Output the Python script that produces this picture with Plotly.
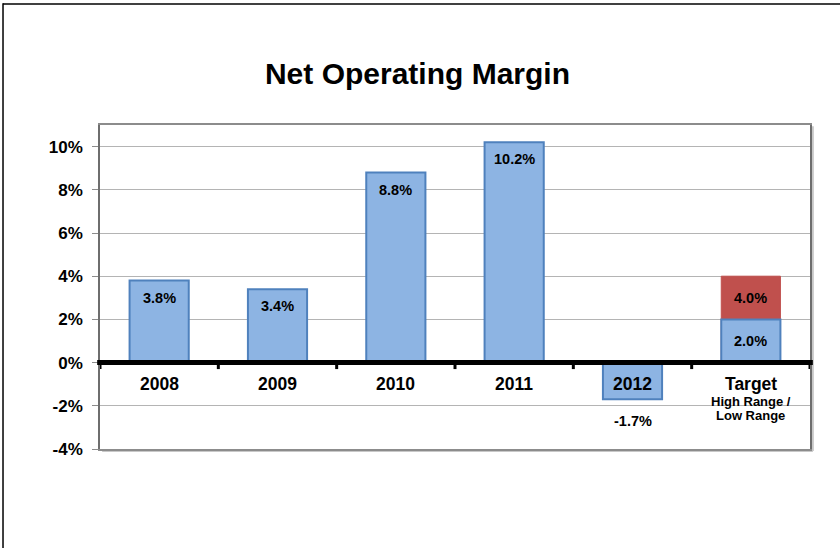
import plotly.graph_objects as go

# Net operating margin by year, in percent
categories = ["2008", "2009", "2010", "2011", "2012", "Target"]
margin = [3.8, 3.4, 8.8, 10.2, -1.7, 2.0]
target_high = [None, None, None, None, None, 4.0]
y_ticks = [-4, -2, 0, 2, 4, 6, 8, 10]
target_note = ["High Range /", "Low Range"]

BLUE_FILL = "#8DB4E3"
BLUE_EDGE = "#4F81BD"
RED_FILL = "#C0504D"
FONT = "Liberation Sans, Arial, sans-serif"

xpos = list(range(len(categories)))
n_years = len(categories) - 1

fig = go.Figure()

# High range of the target (drawn behind the low range)
fig.add_trace(go.Bar(
    x=xpos, y=target_high, width=0.5,
    marker=dict(color=RED_FILL, line=dict(color=RED_FILL, width=1)),
    hoverinfo="skip", showlegend=False,
))

# Yearly margins and low range of the target
fig.add_trace(go.Bar(
    x=xpos, y=margin, width=0.5,
    marker=dict(color=BLUE_FILL, line=dict(color=BLUE_EDGE, width=2)),
    hoverinfo="skip", showlegend=False,
))

label_font = dict(family=FONT, size=14.5, color="black")

# Value labels for the yearly bars
for x, v in zip(xpos[:n_years], margin[:n_years]):
    fig.add_annotation(x=x, y=v, text=f"<b>{v:.1f}%</b>", showarrow=False,
                       yanchor="top", yshift=-7 if v >= 0 else -12, font=label_font)

# Target labels centred in each segment
low = margin[-1]
high = target_high[-1]
fig.add_annotation(x=xpos[-1], y=low / 2, text=f"<b>{low:.1f}%</b>", showarrow=False,
                   yanchor="middle", font=label_font)
fig.add_annotation(x=xpos[-1], y=(low + high) / 2, text=f"<b>{high:.1f}%</b>", showarrow=False,
                   yanchor="middle", font=label_font)

# Category labels sitting just under the zero line
for x, c in zip(xpos, categories):
    fig.add_annotation(x=x, y=0, text=f"<b>{c}</b>", showarrow=False,
                       yanchor="top", yshift=-9,
                       font=dict(family=FONT, size=17.5, color="black"))
for i, line in enumerate(target_note):
    fig.add_annotation(x=xpos[-1], y=0, text=f"<b>{line}</b>", showarrow=False,
                       yanchor="middle", yshift=-39 - 14 * i,
                       font=dict(family=FONT, size=13, color="black"))

shapes = []
# Thick zero baseline
shapes.append(dict(type="line", xref="paper", yref="y", x0=-0.004, x1=1.004, y0=0, y1=0,
                   line=dict(color="black", width=5), layer="above"))
# Small category separators on the baseline
for k in range(len(categories) + 1):
    shapes.append(dict(type="line", xref="x", yref="y", x0=k - 0.5, x1=k - 0.5,
                       y0=0, y1=-0.3, line=dict(color="black", width=3), layer="above"))
# Soft shadow along right and bottom edges of the plot frame
shapes.append(dict(type="line", xref="paper", yref="paper", x0=1.004, x1=1.004, y0=-0.006, y1=0.996,
                   line=dict(color="#C8C8C8", width=2), layer="below"))
shapes.append(dict(type="line", xref="paper", yref="paper", x0=0.003, x1=1.004, y0=-0.006, y1=-0.006,
                   line=dict(color="#C8C8C8", width=2), layer="below"))
# Outer chart frame (top and left edges)
shapes.append(dict(type="line", xref="paper", yref="paper", x0=-0.1366, x1=1.05, y0=1.3735, y1=1.3735,
                   line=dict(color="black", width=1.5)))
shapes.append(dict(type="line", xref="paper", yref="paper", x0=-0.1366, x1=-0.1366, y0=1.376, y1=-0.31,
                   line=dict(color="black", width=1.5)))

fig.update_layout(
    width=840, height=548,
    margin=dict(l=100, r=30, t=125, b=99),
    paper_bgcolor="white", plot_bgcolor="white",
    barmode="overlay", bargap=0.5,
    title=dict(text="<b>Net Operating Margin</b>", x=0.497, xanchor="center",
               y=0.866, yanchor="middle",
               font=dict(family=FONT, size=30, color="black")),
    shapes=shapes,
    xaxis=dict(range=[-0.5, len(categories) - 0.5], tickvals=xpos, showticklabels=False,
               ticks="", showgrid=False, zeroline=False,
               showline=True, linecolor="#8C8C8C", linewidth=1.5, mirror=True),
    yaxis=dict(range=[-4, 11], tickvals=y_ticks, ticktext=[f"<b>{t}%</b>" for t in y_ticks],
               tickfont=dict(family=FONT, size=17, color="black"),
               ticks="outside", ticklen=6, tickcolor="#8C8C8C", ticklabelstandoff=6,
               showgrid=True, gridcolor="#B4B4B4", gridwidth=1, zeroline=False,
               showline=True, linecolor="#6E6E6E", linewidth=1.5, mirror=True),
)

fig.write_html("out.html")
